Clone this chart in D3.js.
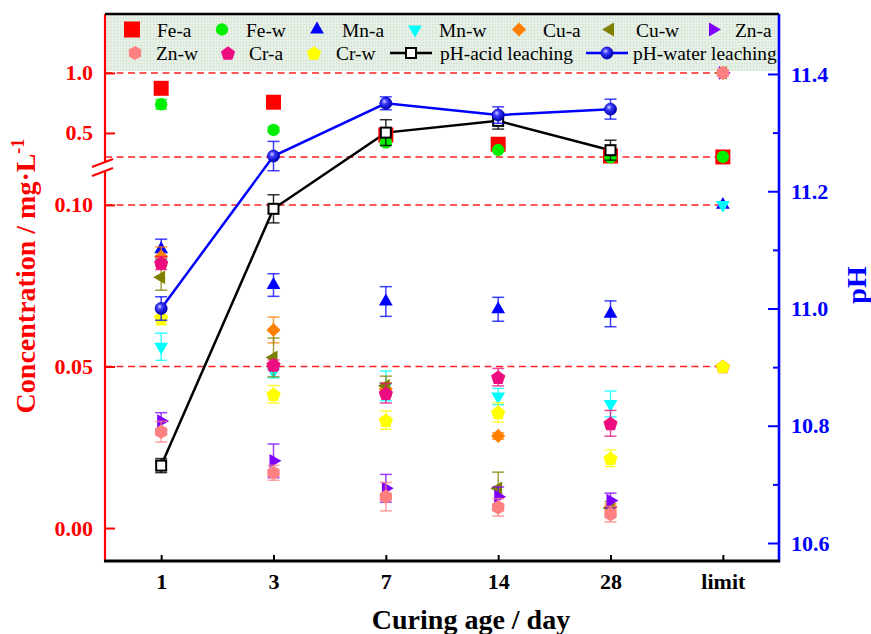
<!DOCTYPE html>
<html><head><meta charset="utf-8">
<script src="https://cdn.jsdelivr.net/npm/d3@7"></script>
<style>
body{margin:0;background:#fff}
svg{display:block}
text{font-family:"Liberation Serif","Times New Roman",serif}
</style>
</head><body>
<svg id="chart" width="871" height="634"></svg>
<script>
// ---------------- DATA ----------------
const categories = ["1", "3", "7", "14", "28", "limit"];

const feA = [0.872, 0.756, 0.483, 0.406, 0.308, 0.3];
const feW = [0.739, 0.525, 0.419, 0.358, 0.297, 0.3];
const mnA = [0.0863, 0.0752, 0.0701, 0.0677, 0.0663, 0.1];
const mnW = [0.0561, 0.0485, 0.0440, 0.0407, 0.0384, 0.1];
const cuA = [0.0840, 0.0613, 0.0430, 0.0285, 0.0065, 1.0];
const cuW = [0.0776, 0.0528, 0.0440, 0.0123, 0.0062, 1.0];
const znA = [0.0331, 0.0208, 0.0123, 0.0097, 0.0085, 1.0];
const znW = [0.0298, 0.0171, 0.0097, 0.0064, 0.0043, 1.0];
const crA = [0.0820, 0.0505, 0.0417, 0.0467, 0.0324, 0.05];
const crW = [0.0651, 0.0414, 0.0334, 0.0358, 0.0216, 0.05];

const feAErr = [0.01, 0.01, 0.01, 0.01, 0.01, null];
const feWErr = [0.04, 0.02, 0.02, 0.01, 0.02, null];
const mnAErr = [0.0031, 0.0035, 0.0046, 0.0037, 0.0040, null];
const mnWErr = [0.0042, 0.0020, 0.0046, 0.0025, 0.0040, null];
const cuAErr = [0.0030, 0.0040, 0.0020, 0.0010, 0.0010, null];
const cuWErr = [0.0040, 0.0060, 0.0030, 0.0050, 0.0020, null];
const znAErr = [0.0026, 0.0052, 0.0043, 0.0030, 0.0023, null];
const znWErr = [0.0032, 0.0023, 0.0044, 0.0027, 0.0024, null];
const crAErr = [0.0020, 0.0015, 0.0030, 0.0027, 0.0040, null];
const crWErr = [0.0022, 0.0027, 0.0028, 0.0030, 0.0026, null];

const phDays = ["1", "3", "7", "14", "28"];
const phAcid = [10.732, 11.17, 11.30, 11.32, 11.27];
const phAcidErr = [0.012, 0.024, 0.022, 0.014, 0.017];
const phWater = [11.0, 11.26, 11.35, 11.33, 11.34];
const phWaterErr = [0.020, 0.025, 0.011, 0.014, 0.017];

const limitLines = [1.0, 0.3, 0.1, 0.05];
const concTicksLow = [0, 0.05, 0.10];
const concTicksHigh = [0.5, 1.0];
const phTicks = [10.6, 10.8, 11.0, 11.2, 11.4];
const phMinorTicks = [10.7, 10.9, 11.1, 11.3];

// ---------------- SERIES / STYLE ----------------
const metalSeries = [
  {name: "Fe-a", values: feA, err: feAErr, color: "#ff0000", shape: "square"},
  {name: "Fe-w", values: feW, err: feWErr, color: "#00ee00", shape: "circle"},
  {name: "Mn-a", values: mnA, err: mnAErr, color: "#0000ff", shape: "triUp"},
  {name: "Mn-w", values: mnW, err: mnWErr, color: "#00ffff", shape: "triDown"},
  {name: "Cu-a", values: cuA, err: cuAErr, color: "#ff8000", shape: "diamond"},
  {name: "Cu-w", values: cuW, err: cuWErr, color: "#808000", shape: "triLeft"},
  {name: "Zn-a", values: znA, err: znAErr, color: "#8000ff", shape: "triRight"},
  {name: "Zn-w", values: znW, err: znWErr, color: "#ff8080", shape: "hexagon"},
  {name: "Cr-a", values: crA, err: crAErr, color: "#ec0c80", shape: "pentagon"},
  {name: "Cr-w", values: crW, err: crWErr, color: "#ffff00", shape: "pentagon"}
];

const symPentagon = {draw(ctx, size) {
  const r = Math.sqrt(size);
  for (let i = 0; i < 5; i++) {
    const a = -Math.PI / 2 + i * 2 * Math.PI / 5;
    const px = r * Math.cos(a), py = r * Math.sin(a) + r * 0.1;
    if (i === 0) ctx.moveTo(px, py); else ctx.lineTo(px, py);
  }
  ctx.closePath();
}};
const symHexagon = {draw(ctx, size) {
  const r = Math.sqrt(size);
  for (let i = 0; i < 6; i++) {
    const a = -Math.PI / 2 + i * Math.PI / 3;
    const px = r * Math.cos(a), py = r * Math.sin(a);
    if (i === 0) ctx.moveTo(px, py); else ctx.lineTo(px, py);
  }
  ctx.closePath();
}};

const shapes = {
  square:   {type: d3.symbolSquare,   size: 225, rot: 0},
  circle:   {type: d3.symbolCircle,   size: 120, rot: 0},
  triUp:    {type: d3.symbolTriangle, size: 82,  rot: 0},
  triDown:  {type: d3.symbolTriangle, size: 82,  rot: 180},
  triLeft:  {type: d3.symbolTriangle, size: 82,  rot: -90},
  triRight: {type: d3.symbolTriangle, size: 82,  rot: 90},
  diamond:  {type: d3.symbolSquare,   size: 100, rot: 45},
  hexagon:  {type: symHexagon,        size: 50,  rot: 0},
  pentagon: {type: symPentagon,       size: 56,  rot: 0}
};

// ---------------- LAYOUT ----------------
const L = 105, R = 779, T = 14, B = 561;
const svg = d3.select("#chart");

const x = d3.scalePoint().domain(categories).range([L, R]).padding(0.5);
const yLow = d3.scaleLinear().domain([-0.0102, 0.1108]).range([B, 170]);
const yHigh = d3.scaleLinear().domain([0.258, 1.491]).range([162, T]);
const yConc = v => v > 0.2 ? yHigh(v) : yLow(v);
const yPH = d3.scaleLinear().domain([10.5693, 11.5023]).range([B, T]);

// defs
const defs = svg.append("defs");
const grad = defs.append("radialGradient").attr("id", "ball")
  .attr("cx", "38%").attr("cy", "35%").attr("r", "65%");
grad.append("stop").attr("offset", "0%").attr("stop-color", "#d0d0ff");
grad.append("stop").attr("offset", "35%").attr("stop-color", "#3a3aff");
grad.append("stop").attr("offset", "100%").attr("stop-color", "#0000a8");
const pat = defs.append("pattern").attr("id", "lgbg").attr("patternUnits", "userSpaceOnUse")
  .attr("width", 3).attr("height", 3);
pat.append("rect").attr("width", 3).attr("height", 3).attr("fill", "#e9f3e9");
pat.append("path").attr("d", "M0,0.5H3M0.5,0V3").attr("stroke", "#dbe8db").attr("stroke-width", 1);

// legend background
svg.append("rect").attr("x", L).attr("y", T).attr("width", R - L).attr("height", 57)
  .attr("fill", "url(#lgbg)");

// limit dashed lines
svg.append("g").selectAll("line").data(limitLines).join("line")
  .attr("x1", L).attr("x2", x("limit"))
  .attr("y1", d => yConc(d)).attr("y2", d => yConc(d))
  .attr("stroke", "#ff2020").attr("stroke-width", 1.5).attr("stroke-dasharray", "7,4.5");

function symbolPath(shape) {
  const s = shapes[shape];
  return d3.symbol().type(s.type).size(s.size)();
}

// ---------------- pH lines (under markers) ----------------
const linePH = d3.line().x((d, i) => x(phDays[i])).y(d => yPH(d));
svg.append("path").datum(phAcid).attr("d", linePH)
  .attr("fill", "none").attr("stroke", "#000").attr("stroke-width", 2.5);
svg.append("path").datum(phWater).attr("d", linePH)
  .attr("fill", "none").attr("stroke", "#0000ff").attr("stroke-width", 2.5);

// ---------------- metal markers ----------------
function errorBars(g, xs, ys, lo, hi, color, op) {
  g.append("line").attr("x1", xs).attr("x2", xs).attr("y1", lo).attr("y2", hi)
    .attr("stroke", color).attr("stroke-width", 1.5).attr("opacity", op);
  [lo, hi].forEach(yy => g.append("line").attr("x1", xs - 6).attr("x2", xs + 6)
    .attr("y1", yy).attr("y2", yy).attr("stroke", color).attr("stroke-width", 1.5).attr("opacity", op));
}

metalSeries.forEach(s => {
  const g = svg.append("g");
  s.values.forEach((v, i) => {
    const cx = x(categories[i]);
    const e = s.err[i];
    if (e != null) {
      errorBars(g, cx, yConc(v), yConc(v - e), yConc(v + e), s.color, 0.75);
    }
  });
  g.selectAll("path.m").data(s.values).join("path").attr("class", "m")
    .attr("d", symbolPath(s.shape))
    .attr("transform", (d, i) => `translate(${x(categories[i])},${yConc(d)}) rotate(${shapes[s.shape].rot})`)
    .attr("fill", s.color);
});

// ---------------- pH markers ----------------
const gA = svg.append("g");
phAcid.forEach((v, i) => errorBars(gA, x(phDays[i]), yPH(v), yPH(v - phAcidErr[i]), yPH(v + phAcidErr[i]), "#000", 0.8));
gA.selectAll("rect").data(phAcid).join("rect")
  .attr("x", (d, i) => x(phDays[i]) - 5).attr("y", d => yPH(d) - 5)
  .attr("width", 10).attr("height", 10)
  .attr("fill", "#fff").attr("stroke", "#000").attr("stroke-width", 2);

const gW = svg.append("g");
phWater.forEach((v, i) => errorBars(gW, x(phDays[i]), yPH(v), yPH(v - phWaterErr[i]), yPH(v + phWaterErr[i]), "#0000ff", 0.75));
gW.selectAll("circle").data(phWater).join("circle")
  .attr("cx", (d, i) => x(phDays[i])).attr("cy", d => yPH(d)).attr("r", 6)
  .attr("fill", "url(#ball)").attr("stroke", "#0000c0").attr("stroke-width", 0.8);

// ---------------- axes ----------------
function styleAxis(g, color, size) {
  g.selectAll(".tick line").attr("stroke", color).attr("stroke-width", 2);
  g.selectAll(".tick text").attr("fill", color).attr("font-size", size)
    .attr("font-weight", "bold").attr("font-family", "Liberation Serif, Times New Roman, serif");
  g.select(".domain").remove();
}

// left (broken)
const gl1 = svg.append("g").attr("transform", `translate(${L},0)`)
  .call(d3.axisLeft(yLow).tickValues(concTicksLow).tickFormat(d3.format(".2f"))
    .tickSizeInner(-10).tickSizeOuter(0).tickPadding(12));
styleAxis(gl1, "#ff0000", 22);
const gl2 = svg.append("g").attr("transform", `translate(${L},0)`)
  .call(d3.axisLeft(yHigh).tickValues(concTicksHigh).tickFormat(d3.format(".1f"))
    .tickSizeInner(-10).tickSizeOuter(0).tickPadding(12));
styleAxis(gl2, "#ff0000", 22);
svg.append("line").attr("x1", L).attr("x2", L).attr("y1", T).attr("y2", 163)
  .attr("stroke", "#ff0000").attr("stroke-width", 2.2);
svg.append("line").attr("x1", L).attr("x2", L).attr("y1", 171).attr("y2", B)
  .attr("stroke", "#ff0000").attr("stroke-width", 2.2);
[[0, 0], [0, 9]].forEach(([dx, dy]) => svg.append("line")
  .attr("x1", 92 + dx).attr("y1", 167 + dy).attr("x2", 113 + dx).attr("y2", 159 + dy)
  .attr("stroke", "#ff0000").attr("stroke-width", 2.2));

// right
const gr = svg.append("g").attr("transform", `translate(${R},0)`)
  .call(d3.axisRight(yPH).tickValues(phTicks).tickFormat(d3.format(".1f"))
    .tickSizeInner(-11).tickSizeOuter(0).tickPadding(12));
styleAxis(gr, "#0000ff", 22);
const grm = svg.append("g").attr("transform", `translate(${R},0)`)
  .call(d3.axisRight(yPH).tickValues(phMinorTicks).tickFormat("").tickSizeInner(-6).tickSizeOuter(0));
styleAxis(grm, "#0000ff", 22);
svg.append("line").attr("x1", R).attr("x2", R).attr("y1", T).attr("y2", B + 1)
  .attr("stroke", "#0000ff").attr("stroke-width", 2.6);

// bottom
const gb = svg.append("g").attr("transform", `translate(0,${B})`)
  .call(d3.axisBottom(x).tickSizeInner(-6).tickSizeOuter(0).tickPadding(12));
styleAxis(gb, "#000", 22);
svg.append("line").attr("x1", L - 1).attr("x2", R + 1).attr("y1", B).attr("y2", B)
  .attr("stroke", "#000").attr("stroke-width", 3);
// top frame
svg.append("line").attr("x1", L).attr("x2", R).attr("y1", T).attr("y2", T)
  .attr("stroke", "#000").attr("stroke-width", 2.5);

// titles
svg.append("text").attr("x", 471).attr("y", 629).attr("text-anchor", "middle")
  .attr("font-size", 28).attr("font-weight", "bold").attr("fill", "#000")
  .text("Curing age / day");
const yt = svg.append("text").attr("transform", "translate(35,276) rotate(-90)")
  .attr("text-anchor", "middle").attr("font-size", 28).attr("font-weight", "bold").attr("fill", "#ff0000");
yt.append("tspan").text("Concentration / mg\u00b7L");
yt.append("tspan").attr("dy", -11).attr("font-size", 18).text("-1");
svg.append("text").attr("transform", "translate(866,285) rotate(-90)")
  .attr("text-anchor", "middle").attr("font-size", 28).attr("font-weight", "bold").attr("fill", "#0000ff")
  .text("pH");

// ---------------- legend ----------------
const legendLayout = [
  {name: "Fe-a", sx: 132, tx: 157, row: 0},
  {name: "Fe-w", sx: 222, tx: 246, row: 0},
  {name: "Mn-a", sx: 317, tx: 342, row: 0},
  {name: "Mn-w", sx: 415, tx: 439, row: 0},
  {name: "Cu-a", sx: 519, tx: 543, row: 0},
  {name: "Cu-w", sx: 610, tx: 636, row: 0},
  {name: "Zn-a", sx: 713, tx: 735, row: 0},
  {name: "Zn-w", sx: 135, tx: 156, row: 1},
  {name: "Cr-a", sx: 228, tx: 249, row: 1},
  {name: "Cr-w", sx: 314, tx: 336, row: 1},
  {name: "pH-acid leaching", sx: 411, tx: 440, row: 1, line: "acid"},
  {name: "pH-water leaching", sx: 607, tx: 633, row: 1, line: "water"}
];
const rowSymY = [29.5, 53], rowTextY = [37, 60];
const gLeg = svg.append("g");
legendLayout.forEach(it => {
  const sy = rowSymY[it.row];
  if (it.line) {
    const col = it.line === "acid" ? "#000" : "#0000ff";
    gLeg.append("line").attr("x1", it.sx - 21).attr("x2", it.sx + 21).attr("y1", sy).attr("y2", sy)
      .attr("stroke", col).attr("stroke-width", 2.5);
    if (it.line === "acid") {
      gLeg.append("rect").attr("x", it.sx - 5).attr("y", sy - 5).attr("width", 10).attr("height", 10)
        .attr("fill", "#fff").attr("stroke", "#000").attr("stroke-width", 2);
    } else {
      gLeg.append("circle").attr("cx", it.sx).attr("cy", sy).attr("r", 6)
        .attr("fill", "url(#ball)").attr("stroke", "#0000c0").attr("stroke-width", 0.8);
    }
  } else {
    const s = metalSeries.find(m => m.name === it.name);
    const sh = shapes[s.shape];
    const sz = s.shape === "square" ? 256 : sh.size;
    gLeg.append("path").attr("d", d3.symbol().type(sh.type).size(sz)())
      .attr("transform", `translate(${it.sx},${sy}) rotate(${sh.rot})`).attr("fill", s.color);
  }
  gLeg.append("text").attr("x", it.tx).attr("y", rowTextY[it.row])
    .attr("font-size", 19.4).attr("fill", "#000").text(it.name);
});
</script>
</body></html>
